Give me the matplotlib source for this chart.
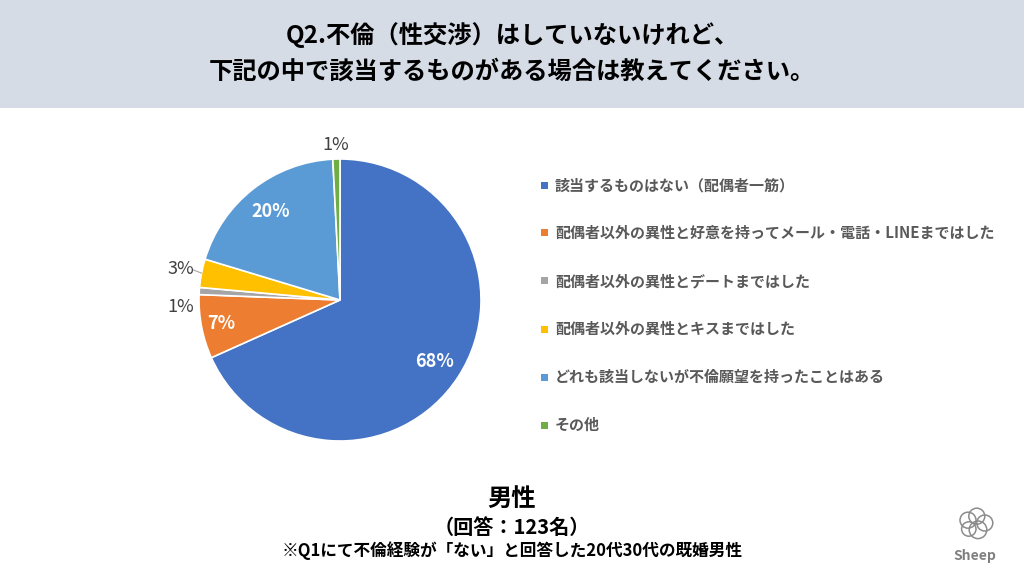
import numpy as np
import matplotlib.pyplot as plt
from matplotlib.patches import Rectangle

plt.rcParams["font.family"] = ["Noto Sans CJK JP", "DejaVu Sans"]

# data (回答：123名)
categories = [
    "該当するものはない（配偶者一筋）",
    "配偶者以外の異性と好意を持ってメール・電話・LINEまではした",
    "配偶者以外の異性とデートまではした",
    "配偶者以外の異性とキスまではした",
    "どれも該当しないが不倫願望を持ったことはある",
    "その他",
]
counts = [84, 9, 1, 4, 24, 1]
pct_labels = ["68%", "7%", "1%", "3%", "20%", "1%"]
colors = ["#4472C4", "#ED7D31", "#A5A5A5", "#FFC000", "#5B9BD5", "#70AD47"]

title_lines = ["Q2.不倫（性交渉）はしていないけれど、", "下記の中で該当するものがある場合は教えてください。"]
group = "男性"
n_text = "（回答：123名）"
note = "※Q1にて不倫経験が「ない」と回答した20代30代の既婚男性"

W, H = 1024, 576
fig = plt.figure(figsize=(W / 100, H / 100), dpi=100)
fig.patch.set_facecolor("white")

# header band
fig.patches.append(Rectangle((0, 1 - 108 / H), 1, 108 / H, transform=fig.transFigure,
                             facecolor="#D6DCE5", edgecolor="none", zorder=0))
fig.text(0.5, 1 - 35 / H, title_lines[0], ha="center", va="center",
         fontsize=17.5, fontweight="bold", color="black")
fig.text(0.5, 1 - 72 / H, title_lines[1], ha="center", va="center",
         fontsize=17.5, fontweight="bold", color="black")

# pie: center (340, 300), radius 141 px
cx, cy, r = 340, 300, 141
ax = fig.add_axes([(cx - r) / W, (H - cy - r) / H, 2 * r / W, 2 * r / H])
wedges, _ = ax.pie(counts, colors=colors, startangle=90, counterclock=False,
                   radius=1, wedgeprops=dict(edgecolor="white", linewidth=1.2))
ax.set_xlim(-1, 1)
ax.set_ylim(-1, 1)
ax.set_aspect("equal")
ax.axis("off")

# label placement: (radius, angle offset in deg, inside?)
label_pos = [(0.80, 0, True), (0.86, 0, True), (1.13, 6, False),
             (1.15, 0, False), (0.80, 0, True), (1.10, 0, False)]
for w, lab, (rr, off, inside) in zip(wedges, pct_labels, label_pos):
    ang = np.deg2rad((w.theta1 + w.theta2) / 2 + off)
    x, y = rr * np.cos(ang), rr * np.sin(ang)
    if inside:
        ax.text(x, y, lab, ha="center", va="center", color="white",
                fontsize=13, fontweight="bold", clip_on=False)
    else:
        ax.text(x, y, lab, ha="center", va="center", color="#404040",
                fontsize=13, clip_on=False)

# leader line for the 3% slice
w3 = wedges[3]
a3 = np.deg2rad((w3.theta1 + w3.theta2) / 2)
ax.plot([1.0 * np.cos(a3), 1.06 * np.cos(a3)], [1.0 * np.sin(a3), 1.12 * np.sin(a3)],
        color="#A6A6A6", lw=0.8, clip_on=False)

# legend
leg_y0, leg_dy = 185, 48
for i, (cat, col) in enumerate(zip(categories, colors)):
    yy = 1 - (leg_y0 + i * leg_dy) / H
    fig.patches.append(Rectangle((541 / W, yy - 3.5 / H), 7 / W, 7 / H,
                                 transform=fig.transFigure, facecolor=col, edgecolor="none"))
    fig.text(555 / W, yy, cat, ha="left", va="center", fontsize=10.8,
             color="#595959", fontweight="bold")

# bottom texts
fig.text(0.5, 1 - 499 / H, group, ha="center", va="center", fontsize=17.5,
         fontweight="bold", color="black")
fig.text(0.5, 1 - 527 / H, n_text, ha="center", va="center", fontsize=14.5,
         fontweight="bold", color="black")
fig.text(0.5, 1 - 551 / H, note, ha="center", va="center", fontsize=12,
         fontweight="bold", color="black")

# logo
fig.text(975 / W, 1 - 556 / H, "Sheep", ha="center", va="center", fontsize=10,
         color="#7F7F7F", fontstyle="italic", fontweight="bold")
logo = fig.add_axes([956 / W, (H - 545) / H, 40 / W, 40 / H])
for (px, py, pr) in [(0.3, 0.62, 0.2), (0.52, 0.72, 0.2), (0.72, 0.55, 0.2),
                     (0.55, 0.38, 0.22), (0.32, 0.4, 0.18)]:
    logo.add_patch(plt.Circle((px, py), pr, fill=False, edgecolor="#8C8C8C", lw=1.1))
logo.set_xlim(0, 1)
logo.set_ylim(0, 1)
logo.axis("off")

fig.savefig("out.png", dpi=100)
